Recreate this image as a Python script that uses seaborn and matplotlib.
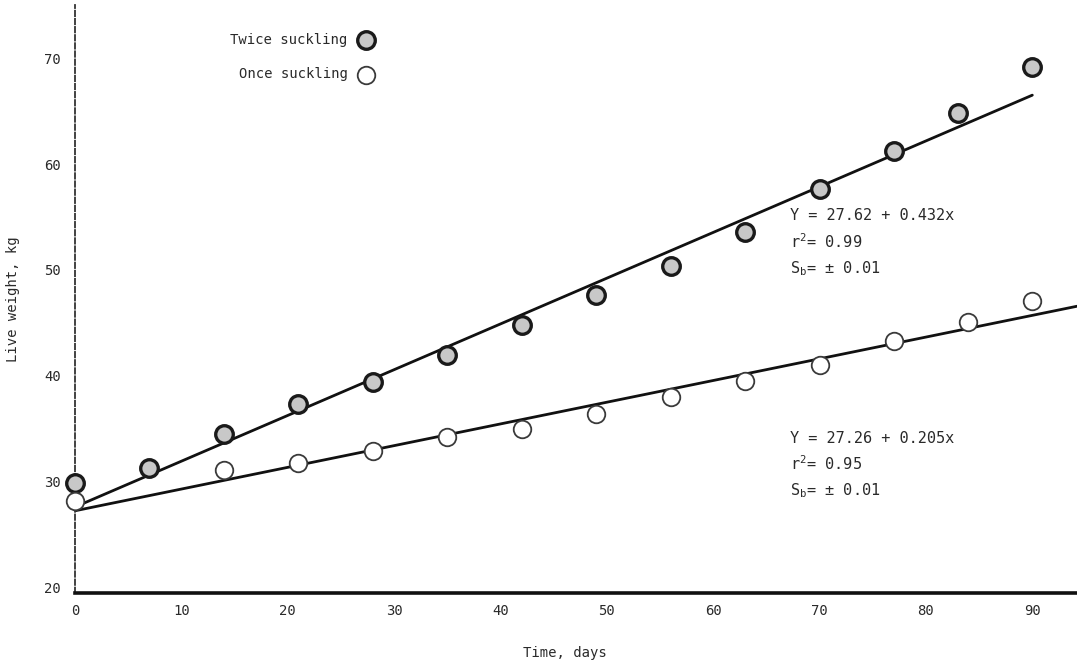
import numpy as np
import pandas as pd
import matplotlib
matplotlib.use('Agg')
import matplotlib.pyplot as plt
import seaborn as sns

# --- dados ---
dias_2x = [0, 7, 14, 21, 28, 35, 42, 49, 56, 63, 70, 77, 83, 90]
peso_2x = [29.9, 31.3, 34.5, 37.3, 39.4, 42.0, 44.8, 47.6, 50.4, 53.6, 57.6, 61.2, 64.8, 69.2]

dias_1x = [0, 14, 21, 28, 35, 42, 49, 56, 63, 70, 77, 84, 90]
peso_1x = [28.2, 31.1, 31.8, 32.9, 34.2, 35.0, 36.4, 38.0, 39.5, 41.0, 43.3, 45.1, 47.1]

# retas de regressão (Y = a + b x)
a_2x, b_2x = 27.62, 0.432
a_1x, b_1x = 27.26, 0.205
r2_2x, r2_1x = 0.99, 0.95
sb_2x, sb_1x = 0.01, 0.01

x_ticks = [0, 10, 20, 30, 40, 50, 60, 70, 80, 90]
y_ticks = [20, 30, 40, 50, 60, 70]

# --- estilo ---
sns.set_style('white')
fonte = ['DejaVu Sans Mono']
plt.rcParams['font.family'] = fonte
plt.rcParams['mathtext.fontset'] = 'custom'
plt.rcParams['mathtext.rm'] = 'DejaVu Sans Mono'
plt.rcParams['mathtext.it'] = 'DejaVu Sans Mono'
cor_txt = '#2a2a2a'

fig = plt.figure(figsize=(10.77, 6.65), dpi=100)
ax = fig.add_axes([0.0696, 0.1083, 0.9304, 0.884])

# retas
xr_2x = np.array([0, 90])
xr_1x = np.array([0, 94.2])
sns.lineplot(x=xr_2x, y=a_2x + b_2x * xr_2x, ax=ax, color='#111111', lw=2.0)
sns.lineplot(x=xr_1x, y=a_1x + b_1x * xr_1x, ax=ax, color='#111111', lw=2.0)

# pontos
sns.scatterplot(x=dias_2x, y=peso_2x, ax=ax, s=160, facecolor='#c8c8c8',
                edgecolor='#1a1a1a', linewidth=2.4, label='Twice suckling',
                zorder=3, clip_on=False)
sns.scatterplot(x=dias_1x, y=peso_1x, ax=ax, s=160, facecolor='white',
                edgecolor='#3a3a3a', linewidth=1.3, label='Once suckling',
                zorder=3, clip_on=False)

ax.set_xlim(0, 94.2)
ax.set_ylim(19.5, 75)
ax.set_xticks(x_ticks)
ax.set_yticks(y_ticks)
ax.tick_params(axis='x', direction='in', length=9, width=1.5, pad=8,
               labelsize=10, colors=cor_txt)
ax.tick_params(axis='y', direction='in', length=11, width=1.5, pad=10,
               labelsize=10, colors=cor_txt)

for lado in ['top', 'right']:
    ax.spines[lado].set_visible(False)
ax.spines['bottom'].set_linewidth(2.6)
ax.spines['bottom'].set_color('#111111')
ax.spines['left'].set_linewidth(1.3)
ax.spines['left'].set_color('#333333')
ax.spines['left'].set_linestyle((0, (3, 1.5)))

ax.set_xlabel('Time, days', fontsize=10, color=cor_txt)
ax.set_ylabel('Live weight, kg', fontsize=10, color=cor_txt)
ax.xaxis.set_label_coords(0.489, -0.09)
ax.yaxis.set_label_coords(-0.055, 0.50)

# equações
ax.text(67.2, 54.7, f'Y = {a_2x} + {b_2x}x', fontsize=11, color=cor_txt)
ax.text(67.2, 52.1, f'r$^2$= {r2_2x:.2f}', fontsize=11, color=cor_txt)
ax.text(67.2, 49.7, f'S$_b$= $\\pm$ {sb_2x:.2f}', fontsize=11, color=cor_txt)
ax.text(67.2, 33.7, f'Y = {a_1x} + {b_1x}x', fontsize=11, color=cor_txt)
ax.text(67.2, 31.1, f'r$^2$= {r2_1x:.2f}', fontsize=11, color=cor_txt)
ax.text(67.2, 28.7, f'S$_b$= $\\pm$ {sb_1x:.2f}', fontsize=11, color=cor_txt)

leg = ax.legend(loc='upper left', bbox_to_anchor=(0.148, 0.965), frameon=False,
                markerfirst=False, labelspacing=1.5, handletextpad=0.3,
                borderpad=0, markerscale=1.0, prop={'family': fonte, 'size': 10})
for t in leg.get_texts():
    t.set_color(cor_txt)

plt.savefig('out.png', dpi=100)
plt.close()
